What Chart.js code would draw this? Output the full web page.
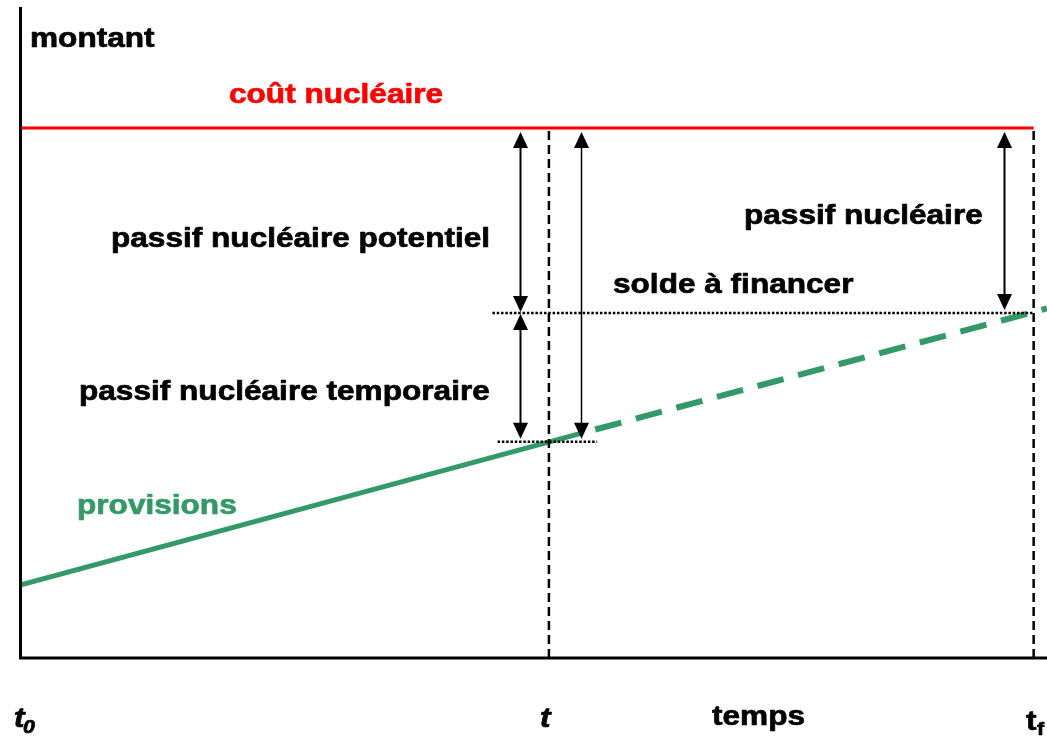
<!DOCTYPE html>
<html>
<head>
<meta charset="utf-8">
<script src="https://cdn.jsdelivr.net/npm/chart.js@4/dist/chart.umd.min.js"></script>
<style>
  html, body { margin: 0; padding: 0; background: #ffffff; }
  #wrap { width: 1047px; height: 736px; }
</style>
</head>
<body>
<div id="wrap"><canvas id="c" width="1047" height="736"></canvas></div>
<script>
// ---- data (arbitrary units: time 0..100, amount 0..100) ----
const timeLabels = ['t0', 't', 'tf'];
const timeValues = [0, 51.5, 98.7];
const coutNucleaire = 81.4;
const provisionsX = [0, 54.6];
const provisionsY = [11.2, 34.5];
const projectionX = [54.6, 100];
const projectionY = [34.5, 53.7];
const soldeLevel = 53.0;
const provisionsAtT = 33.2;
const soldeRangeX = [46.0, 98.7];
const tempRangeX = [46.5, 56.2];
const arrowX = [48.7, 48.7, 54.6, 95.8];
const arrowTop = [81.4, 53.0, 81.4, 81.4];
const arrowBottom = [53.0, 33.2, 33.2, 53.0];

const GREEN = '#339966';
const RED = '#ff0000';

const pts = (xs, ys) => xs.map((x, i) => ({ x: x, y: ys[i] }));

const datasets = [
  { label: 'coût nucléaire', data: pts([timeValues[0], timeValues[2]], [coutNucleaire, coutNucleaire]),
    borderColor: RED, borderWidth: 3 },
  { label: 't', data: pts([timeValues[1], timeValues[1]], [0, coutNucleaire]),
    borderColor: '#000', borderWidth: 2.5, borderDash: [9, 5] },
  { label: 'tf', data: pts([timeValues[2], timeValues[2]], [0, coutNucleaire]),
    borderColor: '#000', borderWidth: 2.5, borderDash: [9, 5] },
  { label: 'solde', data: pts(soldeRangeX, [soldeLevel, soldeLevel]),
    borderColor: '#000', borderWidth: 2.5, borderDash: [2.5, 1.8] },
  { label: 'temp', data: pts(tempRangeX, [provisionsAtT, provisionsAtT]),
    borderColor: '#000', borderWidth: 2.5, borderDash: [2.5, 1.8] },
  { label: 'provisions', data: pts(provisionsX, provisionsY),
    borderColor: GREEN, borderWidth: 5 },
  { label: 'projection', data: pts(projectionX, projectionY),
    borderColor: GREEN, borderWidth: 6, borderDash: [27, 15], borderDashOffset: 27 }
];
datasets.forEach(d => { d.pointRadius = 0; d.fill = false; d.tension = 0; d.borderCapStyle = 'butt'; d.order = 0; });

function arrowHead(ctx, x, y, dir) {
  const w = 7.5, h = 16;
  ctx.beginPath();
  ctx.moveTo(x, y);
  ctx.lineTo(x - w, y + dir * h);
  ctx.lineTo(x + w, y + dir * h);
  ctx.closePath();
  ctx.fill();
}

const decor = {
  id: 'decor',
  afterDraw(chart) {
    const ctx = chart.ctx, xs = chart.scales.x, ys = chart.scales.y, a = chart.chartArea;
    ctx.save();
    // axes
    ctx.strokeStyle = '#000';
    ctx.lineWidth = 3;
    ctx.beginPath();
    ctx.moveTo(a.left + 0.5, a.top);
    ctx.lineTo(a.left + 0.5, a.bottom + 1.5);
    ctx.moveTo(a.left - 1, a.bottom);
    ctx.lineTo(a.right, a.bottom);
    ctx.stroke();

    // arrows
    ctx.fillStyle = '#000';
    arrowX.forEach((v, i) => {
      const x = Math.round(xs.getPixelForValue(v)) + 0.5;
      const yTop = ys.getPixelForValue(arrowTop[i]) + (i === 1 ? 1 : 4);
      const yBot = ys.getPixelForValue(arrowBottom[i]) - (i === 0 ? 1 : 3);
      ctx.lineWidth = i === 2 ? 1.5 : 2;
      ctx.beginPath();
      ctx.moveTo(x, yTop + 10);
      ctx.lineTo(x, yBot - 10);
      ctx.stroke();
      arrowHead(ctx, x, yTop, 1);
      arrowHead(ctx, x, yBot, -1);
    });

    // texts
    const SX = 1.128;
    function txt(s, x, y, color, font) {
      ctx.save();
      ctx.font = font || 'bold 28px "Liberation Sans", Arial, sans-serif';
      ctx.fillStyle = color || '#000';
      ctx.strokeStyle = color || '#000';
      ctx.lineWidth = 0.7;
      ctx.lineJoin = 'round';
      ctx.textBaseline = 'alphabetic';
      ctx.textAlign = 'left';
      ctx.translate(x, y);
      ctx.scale(SX, 1);
      ctx.fillText(s, 0, 0);
      ctx.strokeText(s, 0, 0);
      ctx.restore();
    }
    txt('montant', 30, 47);
    txt('coût nucléaire', 229, 103, RED);
    txt('passif nucléaire potentiel', 111, 247);
    txt('passif nucléaire', 744, 224);
    txt('solde à financer', 613, 293);
    txt('passif nucléaire temporaire', 79, 400);
    txt('provisions', 77, 514, GREEN);
    txt('temps', 712, 725);
    const it = 'italic bold 28px "Liberation Sans", Arial, sans-serif';
    const itS = 'italic bold 19px "Liberation Sans", Arial, sans-serif';
    const bS = 'bold 19px "Liberation Sans", Arial, sans-serif';
    // t0
    txt('t', 14, 727, '#000', it);
    txt('0', 23, 733, '#000', itS);
    // t
    txt('t', 540, 727, '#000', it);
    // tf
    txt('t', 1026, 730, '#000');
    txt('f', 1037, 735, '#000', bS);
    ctx.restore();
  }
};

new Chart(document.getElementById('c'), {
  type: 'line',
  data: { datasets: datasets },
  options: {
    responsive: false,
    devicePixelRatio: 1,
    animation: false,
    layout: { padding: { left: 20, right: 0, top: 7, bottom: 78 } },
    plugins: { legend: { display: false }, tooltip: { enabled: false } },
    scales: {
      x: { type: 'linear', min: 0, max: 100, display: false },
      y: { type: 'linear', min: 0, max: 100, display: false }
    }
  },
  plugins: [decor]
});
</script>
</body>
</html>
